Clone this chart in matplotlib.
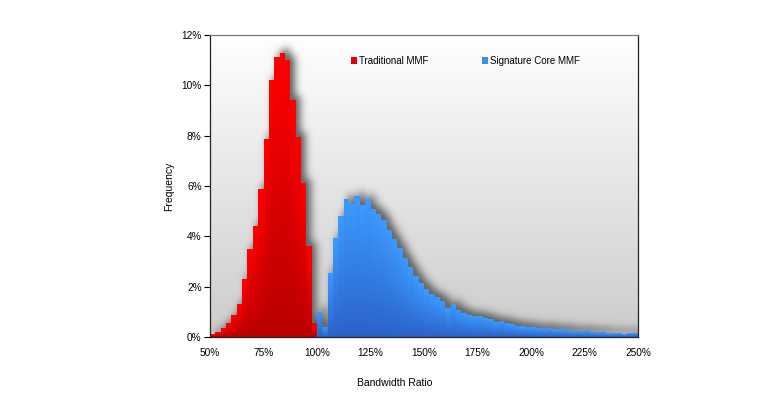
import numpy as np
import matplotlib
matplotlib.use("Agg")
import matplotlib.pyplot as plt
from matplotlib.patches import Patch, PathPatch
from matplotlib.path import Path
from matplotlib.colors import to_rgb

plt.rcParams['font.family'] = ['Liberation Sans', 'DejaVu Sans']

# ---- data (bins of 2.5% width) ----
bin_width = 2.5
red_start = 50.0
red_values = [0.10, 0.19, 0.36, 0.57, 0.86, 1.30, 2.30, 3.50, 4.43, 5.90,
              7.87, 10.20, 11.14, 11.30, 11.00, 9.40, 7.96, 6.10, 3.60, 0.57]
blue_start = 100.0
blue_values = [1.00, 0.41, 2.55, 3.92, 4.80, 5.48, 5.27, 5.60, 5.24, 5.48,
               5.07, 4.90, 4.64, 4.25, 3.88, 3.52, 3.12, 2.77, 2.42, 2.13,
               1.89, 1.69, 1.57, 1.44, 1.14, 1.30, 1.07, 0.96, 0.87, 0.83,
               0.83, 0.75, 0.70, 0.60, 0.62, 0.55, 0.50, 0.45, 0.42, 0.40,
               0.38, 0.35, 0.33, 0.36, 0.30, 0.28, 0.30, 0.25, 0.24, 0.22,
               0.25, 0.20, 0.18, 0.20, 0.15, 0.14, 0.15, 0.12, 0.15, 0.16]
series_names = ["Traditional MMF", "Signature Core MMF"]
x_ticks = [50, 75, 100, 125, 150, 175, 200, 225, 250]
x_tick_labels = ["50%", "75%", "100%", "125%", "150%", "175%", "200%", "225%", "250%"]
y_ticks = [0, 2, 4, 6, 8, 10, 12]
y_tick_labels = ["0%", "2%", "4%", "6%", "8%", "10%", "12%"]

W, H = 781, 407
fig = plt.figure(figsize=(W / 100, H / 100), dpi=100)
ax = fig.add_axes([210 / W, 1 - 337 / H, (638 - 210) / W, (337 - 35) / H])
xmin, xmax, ymin, ymax = 50, 250, 0, 12
ax.set_xlim(xmin, xmax)
ax.set_ylim(ymin, ymax)

# background gradient
bg = np.linspace(1.0, 0.80, 256)[:, None]
bg_rgb = np.dstack([bg, bg, bg])
ax.imshow(bg_rgb, extent=(xmin, xmax, ymin, ymax), aspect='auto',
          origin='upper', zorder=0, interpolation='bilinear')

red_x = red_start + bin_width * np.arange(len(red_values))
blue_x = blue_start + bin_width * np.arange(len(blue_values))

# shadow: blurred mask of all bars
nx, ny = 800, 600
gx = np.linspace(xmin, xmax, nx, endpoint=False) + (xmax - xmin) / nx / 2
gy = np.linspace(ymin, ymax, ny, endpoint=False) + (ymax - ymin) / ny / 2
hx = np.zeros(nx)
for xs, vals in ((red_x, red_values), (blue_x, blue_values)):
    for x0, v in zip(xs, vals):
        sel = (gx >= x0) & (gx < x0 + bin_width)
        hx[sel] = np.maximum(hx[sel], v)
mask = (gy[:, None] < hx[None, :]).astype(float)
pad = 50
maskp = np.pad(mask, pad)
def gk(s):
    r = int(3 * s)
    t = np.arange(-r, r + 1)
    k = np.exp(-t ** 2 / (2 * s * s))
    return k / k.sum()
kx = gk(7.5)
ky = gk(8.0)
blur = np.apply_along_axis(lambda r: np.convolve(r, kx, mode='same'), 1, maskp)
blur = np.apply_along_axis(lambda c: np.convolve(c, ky, mode='same'), 0, blur)
dx = 4.5 * (xmax - xmin) / 428
dy = 4.5 * (ymax - ymin) / 302
ext_x0 = xmin - pad * (xmax - xmin) / nx + dx
ext_x1 = xmax + pad * (xmax - xmin) / nx + dx
ext_y0 = ymin - pad * (ymax - ymin) / ny + dy
ext_y1 = ymax + pad * (ymax - ymin) / ny + dy
sh = np.zeros(blur.shape + (4,))
sh[..., 0:3] = 0.38
sh[..., 3] = np.clip(blur * 1.15, 0, 1) * 0.9
ax.imshow(sh, extent=(ext_x0, ext_x1, ext_y0, ext_y1), origin='lower',
          aspect='auto', zorder=1, interpolation='bilinear')
ax.set_xlim(xmin, xmax)
ax.set_ylim(ymin, ymax)

def gradient_bars(xs, vals, top_col, bot_col, z):
    bars = ax.bar(xs, vals, width=bin_width, align='edge', color='none',
                  edgecolor='none', zorder=z)
    paths = [b.get_path().transformed(b.get_patch_transform()) for b in bars]
    comp = Path.make_compound_path(*paths)
    pp = PathPatch(comp, transform=ax.transData, facecolor='none',
                   edgecolor='none')
    ax.add_patch(pp)
    hcol = np.zeros(nx)
    for x0, v in zip(xs, vals):
        sel = (gx >= x0) & (gx < x0 + bin_width)
        hcol[sel] = v
    t = np.clip(gy[:, None] / np.maximum(hcol[None, :], 1e-6), 0, 1)
    top = np.array(to_rgb(top_col))
    bot = np.array(to_rgb(bot_col))
    img = bot[None, None, :] * (1 - t[..., None]) + top[None, None, :] * t[..., None]
    im = ax.imshow(img, extent=(xmin, xmax, ymin, ymax), origin='lower',
                   aspect='auto', zorder=z, interpolation='bilinear')
    im.set_clip_path(pp)

gradient_bars(red_x, red_values, '#ff0000', '#b80000', 3)
gradient_bars(blue_x, blue_values, '#3c9aff', '#2b62c8', 2)
ax.set_xlim(xmin, xmax)
ax.set_ylim(ymin, ymax)

# axes styling
for s in ax.spines.values():
    s.set_color('#222222')
    s.set_linewidth(0.9)
    s.set_zorder(5)
ax.spines['top'].set_color('#777777')
ax.set_xticks(x_ticks)
ax.set_xticklabels(x_tick_labels, fontsize=7.3)
ax.set_yticks(y_ticks)
ax.set_yticklabels(y_tick_labels, fontsize=7.3)
ax.tick_params(axis='x', length=0, pad=8)
ax.tick_params(axis='y', length=4, width=0.8, direction='out', pad=2)
ax.set_ylabel("Frequency", fontsize=7.5)
ax.yaxis.set_label_coords((174 - 210) / 428, 0.5)
fig.text(394.5 / W, 1 - 383 / H, "Bandwidth Ratio", ha='center', va='center',
         fontsize=7.5)

handles = [Patch(facecolor='#e00000', edgecolor='none'),
           Patch(facecolor='#3a8ef0', edgecolor='none')]
fig.legend(handles, series_names, loc='center left',
           bbox_to_anchor=(351 / W, 1 - 61 / H), ncol=2, frameon=False,
           fontsize=7, handlelength=0.6, handleheight=0.6, handletextpad=0.25,
           columnspacing=5.5, borderpad=0, borderaxespad=0)

fig.savefig("out.png", dpi=100)
